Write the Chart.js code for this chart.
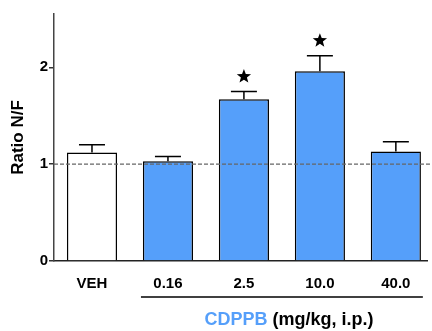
<!DOCTYPE html>
<html>
<head>
<meta charset="utf-8">
<script src="https://cdn.jsdelivr.net/npm/chart.js@4"></script>
<style>
  html, body { margin: 0; padding: 0; background: #fff; }
  #wrap { width: 432px; height: 331px; }
</style>
</head>
<body>
<div id="wrap"><canvas id="chart" width="432" height="331"></canvas></div>
<script>
const groups = ['VEH', '0.16', '2.5', '10.0', '40.0'];
const ratios = [1.12, 1.03, 1.67, 1.96, 1.13];
const errors = [0.08, 0.05, 0.08, 0.16, 0.10];
const significant = [false, false, true, true, false];
const fills = ['#ffffff', '#559ffa', '#559ffa', '#559ffa', '#559ffa'];
const yTicks = [0, 1, 2];
const reference = 1;

const FONT = '"Liberation Sans", Arial, sans-serif';

function drawStar(ctx, cx, cy, r) {
    ctx.beginPath();
    for (let i = 0; i < 10; i++) {
        const rad = i % 2 === 0 ? r : r * 0.42;
        const a = -Math.PI / 2 + i * Math.PI / 5;
        const px = cx + rad * Math.cos(a);
        const py = cy + rad * Math.sin(a);
        if (i === 0) ctx.moveTo(px, py); else ctx.lineTo(px, py);
    }
    ctx.closePath();
    ctx.fill();
}

// error bars, stars, dashed reference line and the dose caption
const extras = {
    id: 'extras',
    afterDatasetsDraw(chart) {
        const ctx = chart.ctx;
        const x = chart.scales.x;
        const y = chart.scales.y;
        const area = chart.chartArea;
        ctx.save();

        // error bars (up only)
        ctx.strokeStyle = '#000';
        ctx.lineWidth = 1.5;
        ratios.forEach((v, i) => {
            const cx = x.getPixelForValue(i);
            const top = y.getPixelForValue(v);
            const cap = y.getPixelForValue(v + errors[i]);
            ctx.beginPath();
            ctx.moveTo(cx, top);
            ctx.lineTo(cx, cap);
            ctx.moveTo(cx - 13, cap);
            ctx.lineTo(cx + 13, cap);
            ctx.stroke();
            if (significant[i]) {
                ctx.fillStyle = '#000';
                drawStar(ctx, cx, cap - 15, 7.5);
            }
        });

        // dashed line at 1
        const ry = y.getPixelForValue(reference);
        ctx.strokeStyle = '#666';
        ctx.lineWidth = 1.3;
        ctx.setLineDash([4, 2]);
        ctx.beginPath();
        ctx.moveTo(area.left, ry);
        ctx.lineTo(432, ry);
        ctx.stroke();
        ctx.setLineDash([]);

        // bracket under the dose labels
        const x0 = x.getPixelForValue(1) - 27;
        const x1 = x.getPixelForValue(4) + 27;
        ctx.strokeStyle = '#000';
        ctx.lineWidth = 1.5;
        ctx.beginPath();
        ctx.moveTo(x0, 297);
        ctx.lineTo(Math.min(x1, 424), 297);
        ctx.stroke();

        // caption
        ctx.font = 'bold 18px ' + FONT;
        ctx.textBaseline = 'middle';
        const a = 'CDPPB';
        const b = ' (mg/kg, i.p.)';
        const wa = ctx.measureText(a).width;
        const wb = ctx.measureText(b).width;
        const start = 289 - (wa + wb) / 2;
        ctx.textAlign = 'left';
        ctx.fillStyle = '#559ffa';
        ctx.fillText(a, start, 320);
        ctx.fillStyle = '#000';
        ctx.fillText(b, start + wa, 320);
        ctx.restore();
    }
};

new Chart(document.getElementById('chart'), {
    type: 'bar',
    data: {
        datasets: [{
            data: ratios.map((v, i) => ({x: i, y: v})),
            backgroundColor: fills,
            borderColor: '#000',
            borderWidth: 1.5,
            borderSkipped: 'bottom',
            barPercentage: 0.66,
            categoryPercentage: 1
        }]
    },
    options: {
        responsive: false,
        animation: false,
        layout: { padding: { left: 0, right: 5, top: 14, bottom: 0 } },
        plugins: {
            legend: { display: false },
            tooltip: { enabled: false }
        },
        scales: {
            x: {
                type: 'linear',
                offset: false,
                min: -0.5,
                max: 4.41,
                afterBuildTicks: axis => { axis.ticks = groups.map((_, i) => ({value: i})); },
                afterFit: scale => { scale.height = 70; },
                grid: { display: false, offset: false },
                border: { display: true, color: '#222', width: 1.5 },
                ticks: {
                    callback: v => groups[v] ?? '',
                    color: '#000',
                    padding: 6,
                    maxRotation: 0,
                    font: { family: FONT, size: 15, weight: 'bold' }
                }
            },
            y: {
                min: 0,
                max: 2.55,
                afterBuildTicks: axis => { axis.ticks = yTicks.map(v => ({value: v})); },
                afterFit: scale => { scale.width = 54; },
                grid: { drawOnChartArea: false, drawTicks: true, tickLength: 5, color: '#333', lineWidth: 1.5 },
                border: { display: true, color: '#444', width: 1.5 },
                ticks: {
                    color: '#000',
                    padding: 1,
                    font: { family: FONT, size: 15, weight: 'bold' }
                },
                title: {
                    display: true,
                    text: 'Ratio N/F',
                    color: '#000',
                    padding: { top: 8, bottom: 0 },
                    font: { family: FONT, size: 17, weight: 'bold' }
                }
            }
        }
    },
    plugins: [extras]
});
</script>
</body>
</html>
